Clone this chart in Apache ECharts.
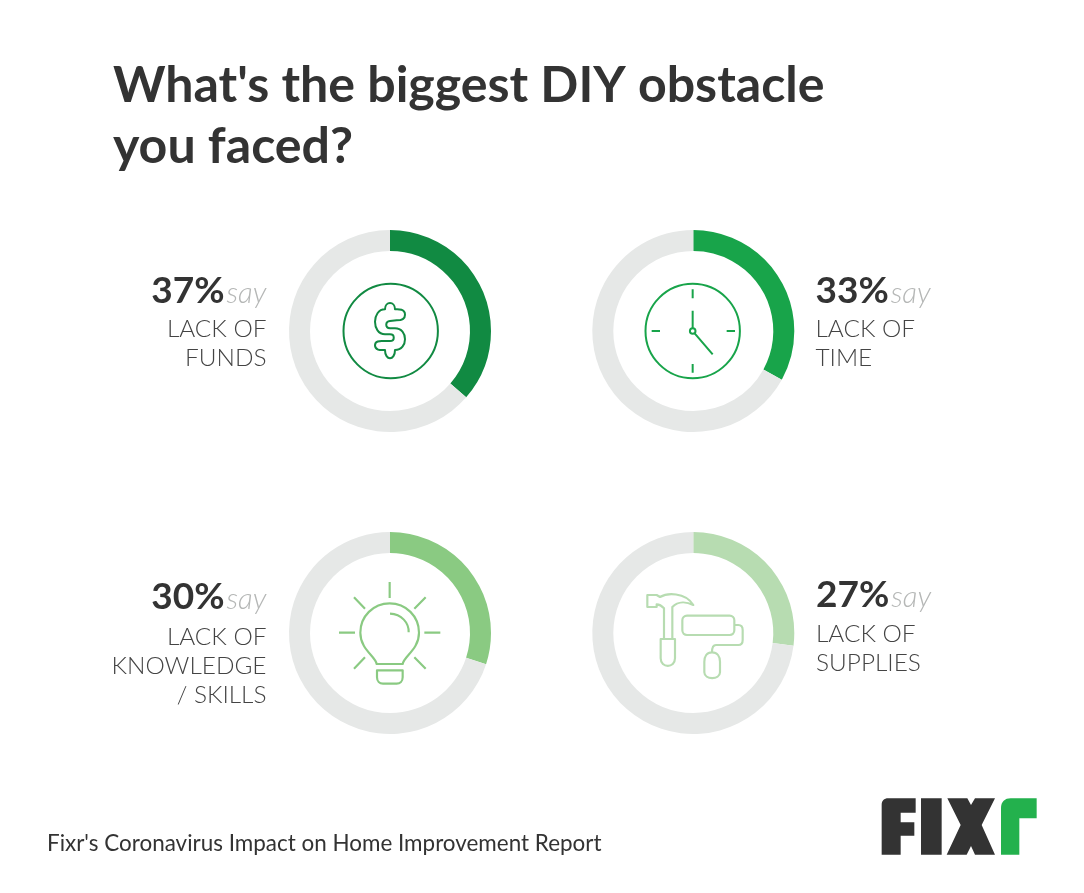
<!DOCTYPE html>
<html>
<head>
<meta charset="utf-8">
<style>html,body{margin:0;padding:0;background:#fff}#c{width:1084px;height:893px}</style>
<script src="https://cdn.jsdelivr.net/npm/echarts@6/dist/echarts.min.js"></script>
</head>
<body>
<div id="c"></div>
<script>
// ---- data ----
const categories = [["LACK OF","FUNDS"],["LACK OF","TIME"],["LACK OF","KNOWLEDGE","/ SKILLS"],["LACK OF","SUPPLIES"]];
const percentLabels = [37, 33, 30, 27];
// Arc lengths as measured in the picture: the 37% arc is drawn ending at about 36.4%.
const arcValues = [36.4, 33, 30, 27];
const sliceColors = ["#118a42", "#18a44a", "#8aca82", "#b7dcb1"];
const titleText = "What's the biggest DIY obstacle\nyou faced?";
const footerText = "Fixr's Coronavirus Impact on Home Improvement Report";

// ---- layout ----
const centers = [[390,331],[693.3,331],[390,633],[693.3,633]];
const labelAnchors = [
  {x:266.5, pctY:291, lineYs:[329,358], align:"right"},
  {x:815.5, pctY:291, lineYs:[329,358], align:"left"},
  {x:266.5, pctY:597, lineYs:[637,666,695], align:"right"},
  {x:816, pctY:595, lineYs:[634,663], align:"left"}
];
const F = "Lato, sans-serif";
const TRACK = "#e6e8e7";

// ---- icon outlines (decoration, in zoomed local units) ----
function reg(name, d){
  echarts.graphic.registerShape(name, echarts.graphic.extendPath(d, {}));
}
reg("iconDollar","M135 85C135 60 165 60 165 85C172 85 195 82 195 101C195 118 178 118 170 118L150 120C135 122 135 140 150 142L165 142C205 142 205 207 165 207C165 240 135 240 135 207C125 207 105 210 105 193C105 178 122 180 130 180L150 180C165 180 165 160 150 160L135 160C95 160 95 85 135 85Z");
reg("iconBulb","M125 258C122 235 76 215 76 164C76 115 115 76 164 76C213 76 252 115 252 164C252 215 206 235 203 258ZM126 277L203 277L203 298C203 310 195 317 185 317L144 317C134 317 126 310 126 298ZM165 107C200 108 222 135 221 163M164 12L164 60M12 164L60 164M268 164L316 164M57 58L90 92M272 58L238 92M90 238L57 272M238 238L272 272");
reg("iconTools","M22 30L50 30L60 36C80 24 135 20 160 60C140 50 115 48 97 66L97 162L105 162L105 220C105 250 62 250 62 220L62 162L72 162L72 70C65 62 58 58 50 58L50 66L22 66ZM72 162L97 162M141 92L269 92C277 92 283 98 283 106L283 136C283 144 277 150 269 150L141 150C133 150 127 144 127 136L127 106C127 98 133 92 141 92ZM283 120L295 120C305 120 308 128 308 135L308 165C308 175 302 180 295 180L228 180C220 180 216 185 216 202M216 202C200 202 193 215 193 230L193 262C193 285 240 285 240 262L240 230C240 215 232 202 216 202Z");
reg("iconClock","M338 208L338 235M338 432L338 458M215 333L240 333M440 333L465 333M338 272L338 324M344 340L398 403");
reg("logoDark","M65 224L65 75C65 62 72 55 85 55L167 55L167 98L122 98L122 127L163 127L163 167L122 167L122 224ZM183 55L245 55L245 224L183 224ZM262 55L322 55L333 75L345 55L405 55L365 135L405 224L345 224L333 198L320 224L260 224L302 135Z");
reg("logoGreen","M423 224L423 85C423 65 435 55 452 55L530 55L530 115L478 115L478 224Z");

function icon(type, x, y, stroke, lw){
  return {type, x, y, scaleX:1/3, scaleY:1/3, silent:true, z:10,
    shape:{}, style:{fill:"none", stroke, lineWidth:lw||6, lineJoin:"round", lineCap:"butt"}};
}

const series = arcValues.map((v,i)=>({
  type:"pie", silent:true, animation:false, center:centers[i], radius:[80,101],
  startAngle:90, clockwise:true, label:{show:false}, labelLine:{show:false},
  emphasis:{disabled:true}, padAngle:0,
  data:[
    {name:categories[i].join(" "), value:v, itemStyle:{color:sliceColors[i]}},
    {name:"Other", value:100-v, itemStyle:{color:TRACK}}
  ]
}));

const elements = [];
percentLabels.forEach((v,i)=>{
  const a = labelAnchors[i];
  elements.push({type:"text", silent:true, style:{
    x:a.x, y:a.pctY, align:a.align, verticalAlign:"middle",
    text:"{p|"+v+"%}{s|say}",
    rich:{
      p:{fontFamily:F,fontWeight:700,fontSize:37,fill:"#333333",color:"#333333"},
      s:{fontFamily:F,fontWeight:300,fontStyle:"italic",fontSize:29.5,fill:"#b5b7b6",color:"#b5b7b6",padding:[4,0,0,2]}
    }
  }});
  categories[i].forEach((line,k)=>{
    elements.push({type:"text", silent:true, style:{
      x:a.x, y:a.lineYs[k], align:a.align, verticalAlign:"middle",
      text:line, fontFamily:F, fontWeight:300, fontSize:24.4, fill:"#444444"
    }});
  });
});
// icon rings
elements.push({type:"circle",silent:true,shape:{cx:390.7,cy:331,r:47.2},style:{fill:"none",stroke:sliceColors[0],lineWidth:2}});
elements.push({type:"circle",silent:true,shape:{cx:692.7,cy:331,r:47.2},style:{fill:"none",stroke:sliceColors[1],lineWidth:2}});
elements.push({type:"circle",silent:true,shape:{cx:692.7,cy:331,r:2.8},style:{fill:"none",stroke:sliceColors[1],lineWidth:2}});
elements.push(icon("iconDollar",340,281,sliceColors[0],6));
elements.push(icon("iconClock",580,220,sliceColors[1],6));
elements.push(icon("iconBulb",335,578,sliceColors[2],6.5));
elements.push(icon("iconTools",640,585,sliceColors[3],6.5));
elements.push({type:"logoDark",x:860,y:780,scaleX:1/3,scaleY:1/3,silent:true,shape:{},style:{fill:"#333333"}});
elements.push({type:"logoGreen",x:860,y:780,scaleX:1/3,scaleY:1/3,silent:true,shape:{},style:{fill:"#23b14d"}});
elements.push({type:"text",silent:true,style:{x:47,y:844,align:"left",verticalAlign:"middle",text:footerText,fontFamily:F,fontWeight:400,fontSize:22.45,fill:"#333333"}});

const chart = echarts.init(document.getElementById("c"), null, {renderer:"canvas"});
chart.setOption({
  backgroundColor:"#ffffff",
  animation:false,
  title:{text:titleText,left:113,top:55.5,padding:0,itemGap:0,
    textStyle:{fontFamily:F,fontWeight:700,fontSize:50.1,lineHeight:61,color:"#333333"}},
  tooltip:{show:false},
  series,
  graphic:{elements}
});
</script>
</body>
</html>
